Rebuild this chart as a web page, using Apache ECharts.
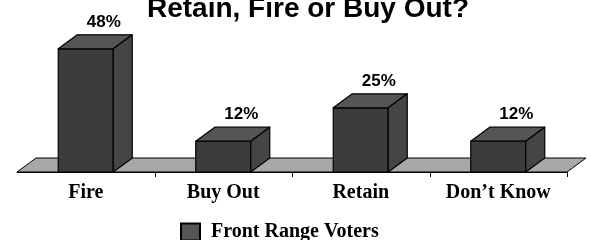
<!DOCTYPE html>
<html>
<head>
<meta charset="utf-8">
<script src="https://cdn.jsdelivr.net/npm/echarts@6/dist/echarts.min.js"></script>
<style>
  html, body { margin: 0; padding: 0; background: #fff; }
  #chart { width: 590px; height: 240px; }
</style>
</head>
<body>
<div id="chart"></div>
<script>
// data
var categories = ["Fire", "Buy Out", "Retain", "Don\u2019t Know"];
var voters = [48, 12, 25, 12];
var seriesName = "Front Range Voters";
var titleText = "Retain, Fire or Buy Out?";

// 3d depth of boxes and floor (pixels)
var DX = 19, DY = 14;

var chart = echarts.init(document.getElementById("chart"));

function renderFloor(params, api) {
  var band = api.size([1, 0])[0];
  var a = api.coord([0, 0]);
  var b = api.coord([categories.length - 1, 0]);
  var x0 = a[0] - band / 2, x1 = b[0] + band / 2, y = a[1];
  var kids = [{
    type: "polygon",
    shape: { points: [[x0, y], [x1, y], [x1 + DX, y - DY], [x0 + DX, y - DY]] },
    style: { fill: "#a8a8a8", stroke: "#000", lineWidth: 1 }
  }];
  // ticks on the category boundaries, but not the leftmost one
  for (var i = 0; i < categories.length; i++) {
    var tx = Math.round(api.coord([i, 0])[0] + band / 2) + 0.5;
    kids.push({
      type: "line",
      shape: { x1: tx, y1: y, x2: tx, y2: y + 5 },
      style: { stroke: "#000", lineWidth: 1 }
    });
  }
  return { type: "group", children: kids };
}

function renderBox(params, api) {
  var idx = api.value(0), val = api.value(1);
  var top = api.coord([idx, val]);
  var base = api.coord([idx, 0]);
  var w = api.size([1, 0])[0] * 0.4;
  var x0 = top[0] - w / 2, x1 = top[0] + w / 2;
  var y0 = base[1], y1 = top[1];
  var edge = { stroke: "#000", lineWidth: 1.2, lineJoin: "round" };
  return {
    type: "group",
    children: [
      {
        type: "polygon",
        shape: { points: [[x0, y0], [x1, y0], [x1, y1], [x0, y1]] },
        style: Object.assign({ fill: "#3c3c3c" }, edge)
      },
      {
        type: "polygon",
        shape: { points: [[x0, y1], [x1, y1], [x1 + DX, y1 - DY], [x0 + DX, y1 - DY]] },
        style: Object.assign({ fill: "#555555" }, edge)
      },
      {
        type: "polygon",
        shape: { points: [[x1, y0], [x1 + DX, y0 - DY], [x1 + DX, y1 - DY], [x1, y1]] },
        style: Object.assign({ fill: "#454545" }, edge)
      },
      {
        type: "text",
        x: top[0] + 18,
        y: y1 - DY - 12.5,
        style: {
          text: val + "%",
          align: "center",
          verticalAlign: "middle",
          font: "bold 17px 'Liberation Sans', Arial, sans-serif",
          fill: "#000"
        }
      }
    ]
  };
}

chart.setOption({
  animation: false,
  graphic: [
    {
      type: "text",
      x: 308,
      y: -5,
      style: {
        text: titleText,
        align: "center",
        verticalAlign: "top",
        font: "bold 28px 'Liberation Sans', Arial, sans-serif",
        fill: "#000"
      }
    }
  ],
  legend: {
    data: [seriesName],
    left: 180,
    top: 222,
    padding: 0,
    icon: "rect",
    itemWidth: 19,
    itemHeight: 17,
    textStyle: {
      fontFamily: "'Liberation Serif', 'Times New Roman', serif",
      fontWeight: "bold",
      fontSize: 20,
      color: "#000",
      padding: [0, 0, 0, 6]
    }
  },
  grid: { left: 17, right: 23, top: 18, bottom: 68 },
  xAxis: {
    type: "category",
    data: categories,
    axisLine: { lineStyle: { color: "#000", width: 1 } },
    axisTick: { show: false },
    axisLabel: {
      margin: 11,
      color: "#000",
      fontFamily: "'Liberation Serif', 'Times New Roman', serif",
      fontWeight: "bold",
      fontSize: 20
    },
    z: 5
  },
  yAxis: { type: "value", min: 0, max: 60, show: false },
  series: [
    {
      type: "custom",
      name: "floor",
      renderItem: renderFloor,
      data: [[0, 0]],
      silent: true,
      z: 1
    },
    {
      type: "custom",
      name: seriesName,
      renderItem: renderBox,
      itemStyle: { color: "#555555", borderColor: "#000", borderWidth: 1 },
      data: voters.map(function (v, i) { return [i, v]; }),
      z: 3
    }
  ]
});
</script>
</body>
</html>
